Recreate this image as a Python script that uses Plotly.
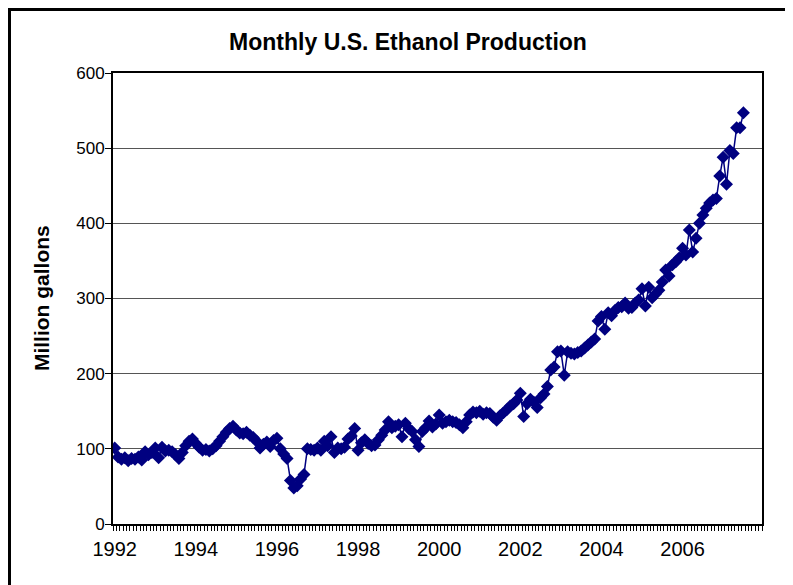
import plotly.graph_objects as go

# Producción mensual de etanol en EE.UU. (millones de galones), ene-1992 a jul-2007
years = [str(y) for y in range(1992, 2008)]
prod_1992 = [101, 89, 86, 88, 84, 87, 86, 89, 85, 96, 92, 95]
prod_1993 = [101, 88, 102, 97, 98, 96, 92, 87, 95, 104, 110, 113]
prod_1994 = [107, 102, 98, 99, 97, 100, 104, 110, 116, 122, 127, 130]
prod_1995 = [125, 121, 120, 122, 118, 115, 110, 101, 106, 109, 103, 111]
prod_1996 = [114, 100, 93, 87, 58, 48, 51, 60, 66, 100, 99, 98]
prod_1997 = [101, 98, 110, 104, 116, 95, 101, 100, 102, 113, 117, 127]
prod_1998 = [98, 108, 112, 107, 104, 105, 112, 118, 125, 136, 128, 130]
prod_1999 = [132, 116, 134, 127, 123, 112, 103, 123, 128, 137, 129, 133]
prod_2000 = [145, 134, 136, 138, 136, 135, 132, 128, 136, 145, 149, 148]
prod_2001 = [150, 146, 148, 147, 142, 138, 144, 148, 152, 157, 160, 165]
prod_2002 = [174, 143, 160, 166, 162, 155, 168, 173, 183, 205, 209, 229]
prod_2003 = [230, 198, 229, 227, 226, 228, 230, 234, 238, 242, 246, 270]
prod_2004 = [276, 259, 281, 277, 284, 288, 289, 294, 287, 288, 294, 298]
prod_2005 = [313, 290, 315, 301, 306, 311, 322, 338, 330, 345, 349, 354]
prod_2006 = [367, 358, 391, 362, 380, 400, 411, 420, 427, 431, 433, 463]
prod_2007 = [488, 452, 497, 493, 527, 527, 547]

valores = (prod_1992 + prod_1993 + prod_1994 + prod_1995 + prod_1996 + prod_1997 +
           prod_1998 + prod_1999 + prod_2000 + prod_2001 + prod_2002 + prod_2003 +
           prod_2004 + prod_2005 + prod_2006 + prod_2007)
meses = list(range(len(valores)))
n_categorias = 12 * len(years)

fig = go.Figure()

# Serie con marcadores en diamante (estilo Excel)
fig.add_trace(go.Scatter(
    x=meses, y=valores, mode='lines+markers',
    line=dict(color='#000080', width=1.5),
    marker=dict(symbol='diamond', size=10, color='#000080'),
    showlegend=False
))

fuente = "Liberation Sans, Arial, sans-serif"

# La página tiene 8 px de margen en el body, por eso el tamaño es 785x577
ancho, alto = 785, 577
fig.update_layout(
    width=ancho, height=alto,
    margin=dict(l=105, r=31, t=65, b=61),
    paper_bgcolor='white', plot_bgcolor='white',
    font=dict(family=fuente, size=16, color='black'),
    title=dict(text='<b>Monthly U.S. Ethanol Production</b>', x=400 / ancho, xref='container',
               xanchor='center', y=1 - 34 / alto, yref='container', yanchor='middle',
               font=dict(size=23, family=fuente, color='black')),
)

# Eje X: categorías mensuales, etiquetas cada dos años
fig.update_xaxes(
    range=[-0.5, n_categorias - 0.5],
    tickmode='array',
    tickvals=[i * 12 for i in range(0, len(years) - 1, 2)],
    ticktext=years[0:len(years) - 1:2],
    ticks='', tickfont=dict(size=20), ticklabelstandoff=6,
    showgrid=False, zeroline=False,
    showline=True, linecolor='black', linewidth=2, mirror=True,
    minor=dict(tickmode='linear', tick0=-0.5, dtick=1, ticks='outside',
               ticklen=5, tickcolor='black', tickwidth=1, showgrid=False),
)

# Eje Y
fig.update_yaxes(
    range=[0, 600], dtick=100,
    ticks='outside', ticklen=6, tickcolor='black',
    tickfont=dict(size=17), ticklabelstandoff=-3,
    showgrid=True, gridcolor='#555555', gridwidth=1,
    zeroline=False,
    showline=True, linecolor='black', linewidth=2, mirror=True,
)

# Título del eje Y
fig.add_annotation(text='<b>Million gallons</b>', textangle=-90,
                   xref='paper', yref='paper', x=(33 - 105) / 649, xanchor='center',
                   y=0.501, yanchor='middle',
                   showarrow=False, font=dict(size=21, family=fuente))

# Marco exterior del gráfico
fig.add_shape(type='rect', xref='paper', yref='paper',
              x0=(1.5 - 105) / 649, x1=(781 - 105) / 649,
              y0=(516 - 600) / 451, y1=(516 - 1.5) / 451,
              line=dict(color='black', width=3))

fig.write_html("out.html")
